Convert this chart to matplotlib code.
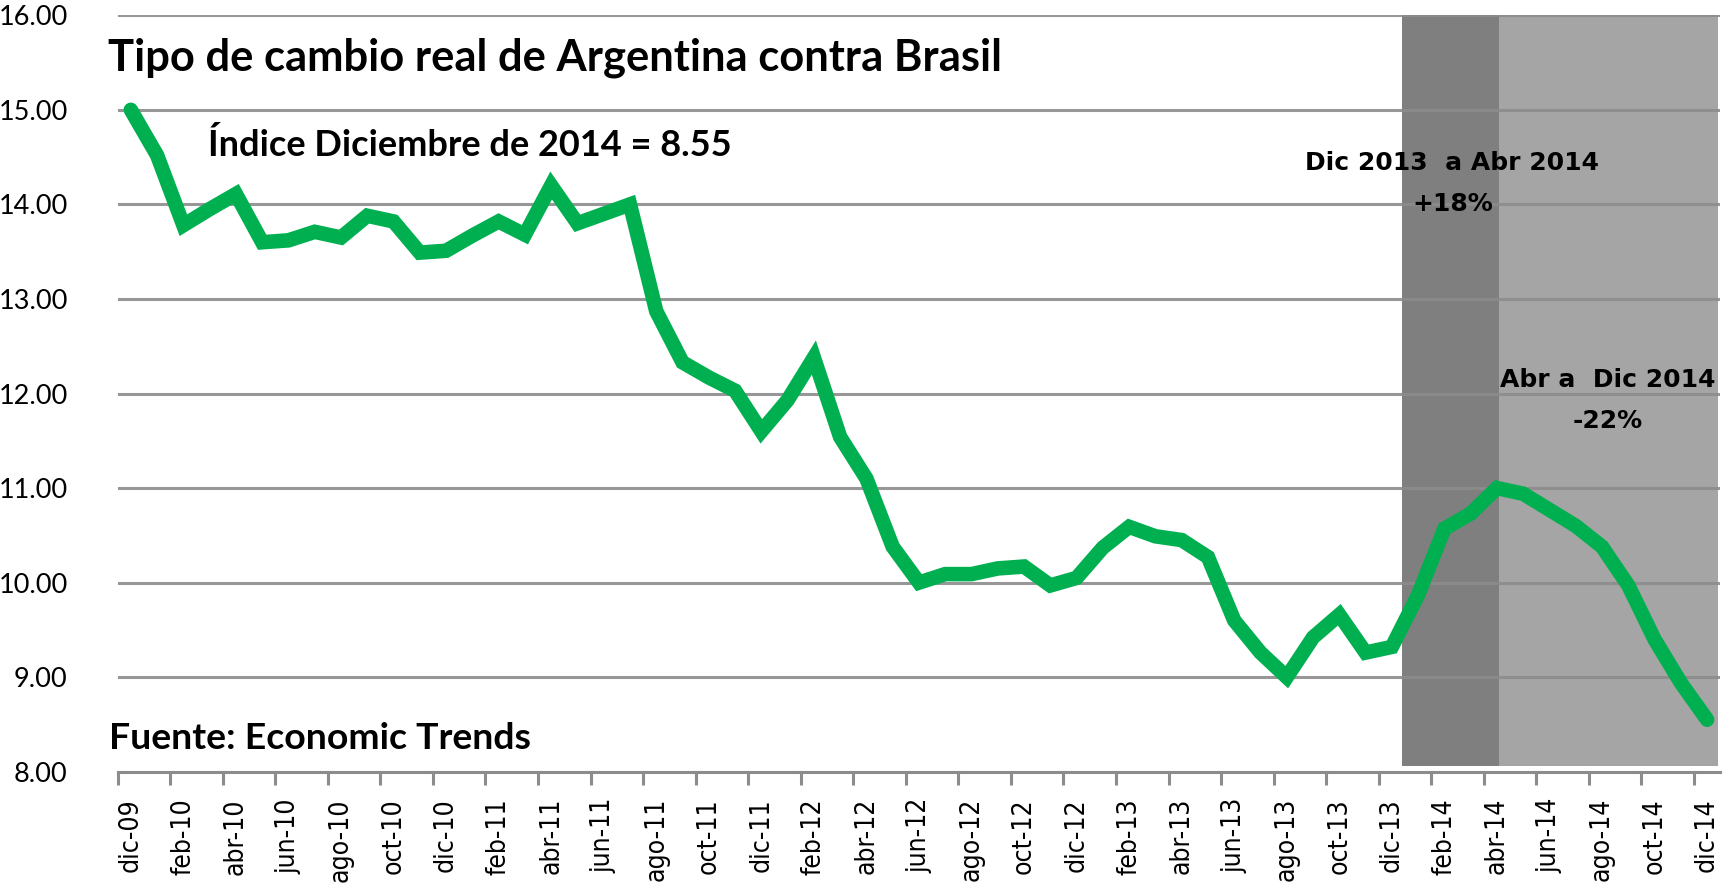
import numpy as np
import matplotlib
matplotlib.use("Agg")
import matplotlib.pyplot as plt
from matplotlib.ticker import FixedLocator, FuncFormatter

# --- data: monthly real exchange rate, dic-09 .. dic-14 ---
months_es = ["ene", "feb", "mar", "abr", "may", "jun",
             "jul", "ago", "sep", "oct", "nov", "dic"]
start_year, start_month = 2009, 12

tcr_values = [
    15.00, 14.52, 13.78, 13.95, 14.11, 13.60, 13.62, 13.71, 13.65, 13.88,
    13.82, 13.49, 13.51, 13.67, 13.82, 13.68, 14.20, 13.80, 13.90, 14.00,
    12.87, 12.33, 12.17, 12.03, 11.60, 11.93, 12.38, 11.54, 11.10, 10.38,
    10.00, 10.09, 10.09, 10.15, 10.17, 9.97, 10.05, 10.37, 10.59, 10.49,
    10.45, 10.27, 9.60, 9.26, 9.00, 9.42, 9.66, 9.26, 9.32, 9.87,
    10.57, 10.73, 11.00, 10.94, 10.77, 10.60, 10.38, 9.97, 9.40, 8.94,
    8.55,
]

y_ticks = [8, 9, 10, 11, 12, 13, 14, 15, 16]

# shaded periods (month index, from/to) and their colours
periods = [(48.39, 52.08, "#7f7f7f"), (52.08, 60.43, "#a5a5a5")]
shade_floor = 8.063

GREEN = "#00b050"
GRID = "#8c8c8c"
NARROW = ["Lato", "DejaVu Sans"]
WIDE = ["DejaVu Sans"]


def month_label(i):
    m = (start_month - 1 + i) % 12
    y = start_year + (start_month - 1 + i) // 12
    return f"{months_es[m]}-{y % 100:02d}"


n = len(tcr_values)
x = np.arange(n)
labels = [month_label(i) for i in range(n)]

fig = plt.figure(figsize=(17.23, 8.90), dpi=100)
ax = fig.add_axes([0.0683, 0.1329, 0.9301, 0.8499])

for x0, x1, col in periods:
    ax.fill_between([x0, x1], shade_floor, 16, color=col, lw=0, zorder=1)

for yv in y_ticks:
    ax.axhline(yv, color=GRID, lw=2.2, zorder=2, alpha=0.9)

ax.plot(x, tcr_values, color=GREEN, lw=10.5, solid_joinstyle="miter",
        solid_capstyle="round", zorder=3)

ax.set_xlim(-0.5, n - 0.5)
ax.set_ylim(8, 16)

for s in ["top", "right", "left"]:
    ax.spines[s].set_visible(False)
ax.spines["bottom"].set_color(GRID)
ax.spines["bottom"].set_linewidth(2.2)

ax.set_yticks(y_ticks)
ax.yaxis.set_major_formatter(FuncFormatter(lambda v, p: f"{v:.2f}"))
ax.tick_params(axis="y", length=0, pad=36)
for t in ax.get_yticklabels():
    t.set_fontfamily(NARROW)
    t.set_fontsize(19.5)

# labels every two months, tick marks on category boundaries
ax.xaxis.set_major_locator(FixedLocator(x[::2]))
ax.set_xticklabels(labels[::2], rotation=90, fontsize=19, family=WIDE,
                   fontstretch="condensed")
ax.tick_params(axis="x", which="major", length=0, pad=19)
ax.xaxis.set_minor_locator(FixedLocator(np.arange(-0.5, n, 2)))
ax.tick_params(axis="x", which="minor", length=9, width=2.2, color=GRID,
               direction="out")

ax.text(-0.85, 15.55, "Tipo de cambio real de Argentina contra Brasil",
        fontsize=31.3, fontweight="bold", family=NARROW, va="center",
        ha="left")
ax.text(2.93, 14.63, "Índice Diciembre de 2014 = 8.55",
        fontsize=26, fontweight="bold", family=NARROW, va="center",
        ha="left")
ax.text(-0.82, 8.35, "Fuente: Economic Trends",
        fontsize=26.9, fontweight="bold", family=NARROW, va="center",
        ha="left")
ax.text(50.3, 14.22, "Dic 2013  a Abr 2014\n+18%", fontsize=18,
        fontweight="bold", family=WIDE, ha="center", va="center",
        linespacing=1.9)
ax.text(56.2, 11.93, "Abr a  Dic 2014\n-22%", fontsize=18,
        fontweight="bold", family=WIDE, ha="center", va="center",
        linespacing=1.9)

fig.savefig("out.png", dpi=100)
